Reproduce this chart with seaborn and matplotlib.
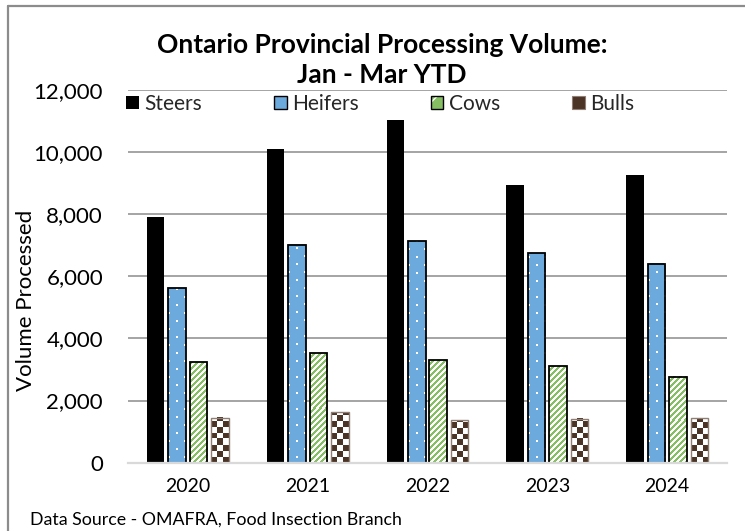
import numpy as np
import pandas as pd
import matplotlib
matplotlib.use("Agg")
import matplotlib.pyplot as plt
import seaborn as sns
from matplotlib.colors import to_rgba
from matplotlib.patches import Patch
from matplotlib.lines import Line2D

# ---------------- data ----------------
years = ["2020", "2021", "2022", "2023", "2024"]
series = ["Steers", "Heifers", "Cows", "Bulls"]
steers = [7900, 10100, 11050, 8950, 9250]
heifers = [5620, 7020, 7140, 6760, 6410]
cows = [3250, 3520, 3310, 3110, 2770]
bulls = [1450, 1620, 1380, 1420, 1440]
yticks = [0, 2000, 4000, 6000, 8000, 10000, 12000]
title_lines = ["Ontario Provincial Processing Volume:", "Jan - Mar YTD"]
ylabel = "Volume Processed"
source = "Data Source - OMAFRA, Food Insection Branch"

# ---------------- style ----------------
sns.set_theme(style="white")
plt.rcParams["font.family"] = ["Lato", "DejaVu Sans"]

STEER_C = "#000000"
HEIFER_C = "#6CA9DC"
COW_C = "#86BF63"
BULL_C = "#4B3326"
GRID_C = "#8C8C8C"


def set_hatch_color(p, c):
    if hasattr(p, "set_hatchcolor"):
        p.set_hatchcolor(c)
    else:
        p._hatch_color = to_rgba(c)


df = pd.DataFrame({
    "Year": years * len(series),
    "Type": np.repeat(series, len(years)),
    "Volume": steers + heifers + cows + bulls,
})

W, H = 745, 531
fig = plt.figure(figsize=(W / 100, H / 100), dpi=100)
ax_l, ax_r, ax_b, ax_t = 128, 727, 462.7, 90
ax = fig.add_axes([ax_l / W, 1 - ax_b / H, (ax_r - ax_l) / W, (ax_b - ax_t) / H])

palette = {"Steers": STEER_C, "Heifers": HEIFER_C, "Cows": "#FFFFFF", "Bulls": "#FFFFFF"}
sns.barplot(data=df, x="Year", y="Volume", hue="Type", hue_order=series, order=years,
            palette=palette, saturation=1, width=0.717, gap=0.185, legend=False,
            linewidth=0, ax=ax)

ax.set_xlim(-0.5, len(years) - 0.5)
ax.set_ylim(0, 12000)


# ---- pixel textures clipped to each bar ----
def rgb(c):
    return np.array(to_rgba(c)[:3])


def texture_for(p, kind):
    x0, y0, w, h = p.get_x(), p.get_y(), p.get_width(), p.get_height()
    (px0, py0) = ax.transData.transform((x0, y0))
    (px1, py1) = ax.transData.transform((x0 + w, y0 + h))
    ncol = max(1, int(round(px1 - px0)))
    nrow = max(1, int(round(py1 - py0)))
    cols = np.arange(ncol) + int(round(px0))
    rows_from_bottom = np.arange(nrow)[::-1]          # image row 0 is the top
    ydown = (H - int(round(py1))) + np.arange(nrow)   # absolute y (down) per row
    X, Yd = np.meshgrid(cols, ydown)
    Rb, C = np.meshgrid(rows_from_bottom, np.arange(ncol), indexing="ij")
    img = np.ones((nrow, ncol, 3))
    if kind == "dots":
        img[:] = rgb(HEIFER_C)
        a = ((X % 16) < 2) & ((Yd % 16) < 2)
        b = (((X + 8) % 16) < 2) & (((Yd + 8) % 16) < 2)
        img[a | b] = 1.0
    elif kind == "stripes":
        img[:] = 1.0
        m = ((X + Yd) % 6) < 3
        img[m] = rgb(COW_C)
    elif kind == "checker":
        cell = 5.8
        m = ((np.floor(C / cell) + np.floor(Rb / cell)) % 2) == 0
        img[:] = 1.0
        img[m] = rgb(BULL_C)
    ax.imshow(img, extent=(x0, x0 + w, y0, y0 + h), origin="upper", aspect="auto",
              interpolation="nearest", zorder=0.9)


cont = ax.containers
for p in cont[0]:
    p.set_edgecolor("black")
    p.set_linewidth(0)
for p in cont[1]:
    texture_for(p, "dots")
    p.set_facecolor("none")
    p.set_edgecolor("black")
    p.set_linewidth(1.3)
for p in cont[2]:
    texture_for(p, "stripes")
    p.set_facecolor("none")
    p.set_edgecolor("black")
    p.set_linewidth(1.3)
for p in cont[3]:
    texture_for(p, "checker")
    p.set_facecolor("none")
    p.set_edgecolor("#8E7E74")
    p.set_linewidth(1.0)

ax.set_xlim(-0.5, len(years) - 0.5)
ax.set_ylim(0, 12000)
ax.set_aspect("auto")

# axes styling
ax.set_yticks(yticks)
ax.set_yticklabels([f"{v:,}" for v in yticks], fontsize=16, color="#000000")
ax.tick_params(axis="y", length=0, pad=18)
ax.tick_params(axis="x", length=0, pad=11, labelsize=14, labelcolor="#000000")
ax.set_xlabel("")
ax.set_ylabel("")
ax.set_axisbelow(True)
ax.yaxis.grid(True, color=GRID_C, linewidth=1.1)
ax.xaxis.grid(False)
for s in ["left", "right", "top"]:
    ax.spines[s].set_visible(False)
ax.spines["bottom"].set_color("#D9D9D9")
ax.spines["bottom"].set_linewidth(1.6)
ax.patch.set_alpha(0)

# titles / labels
fig.text(382 / W, 1 - 53 / H, title_lines[0], ha="center", va="baseline",
         fontsize=19, fontweight="bold", color="black")
fig.text(382 / W, 1 - 83 / H, title_lines[1], ha="center", va="baseline",
         fontsize=19, fontweight="bold", color="black")
fig.text(26 / W, 1 - 300 / H, ylabel, rotation=90, ha="center", va="center",
         fontsize=16, color="black")
fig.text(30 / W, 1 - 520 / H, source, ha="left", va="center", fontsize=12.8, color="black")

# legend
h_steer = Patch(facecolor=STEER_C, edgecolor=STEER_C, linewidth=0)
h_heif = Patch(facecolor=HEIFER_C, edgecolor="black", linewidth=1.0)
h_cow = Patch(facecolor=COW_C, edgecolor="black", linewidth=1.0, hatch="/")
set_hatch_color(h_cow, "white")
h_bull = Patch(facecolor=BULL_C, edgecolor="#8E7E74", linewidth=0.8)
fig.legend([h_steer, h_heif, h_cow, h_bull], series, loc="center left",
           bbox_to_anchor=(126 / W, 1 - 104 / H), bbox_transform=fig.transFigure,
           ncol=4, frameon=False, fontsize=15, handlelength=0.62, handleheight=0.62,
           handletextpad=0.25, columnspacing=3.45, borderpad=0, borderaxespad=0)

# outer border (left & top visible)
fig.add_artist(Line2D([8 / W, 8 / W], [0, 1 - 6 / H], transform=fig.transFigure,
                      color=GRID_C, linewidth=1.6))
fig.add_artist(Line2D([8 / W, 1], [1 - 6 / H, 1 - 6 / H], transform=fig.transFigure,
                      color=GRID_C, linewidth=1.6))

fig.savefig("out.png", dpi=100, facecolor="white")
